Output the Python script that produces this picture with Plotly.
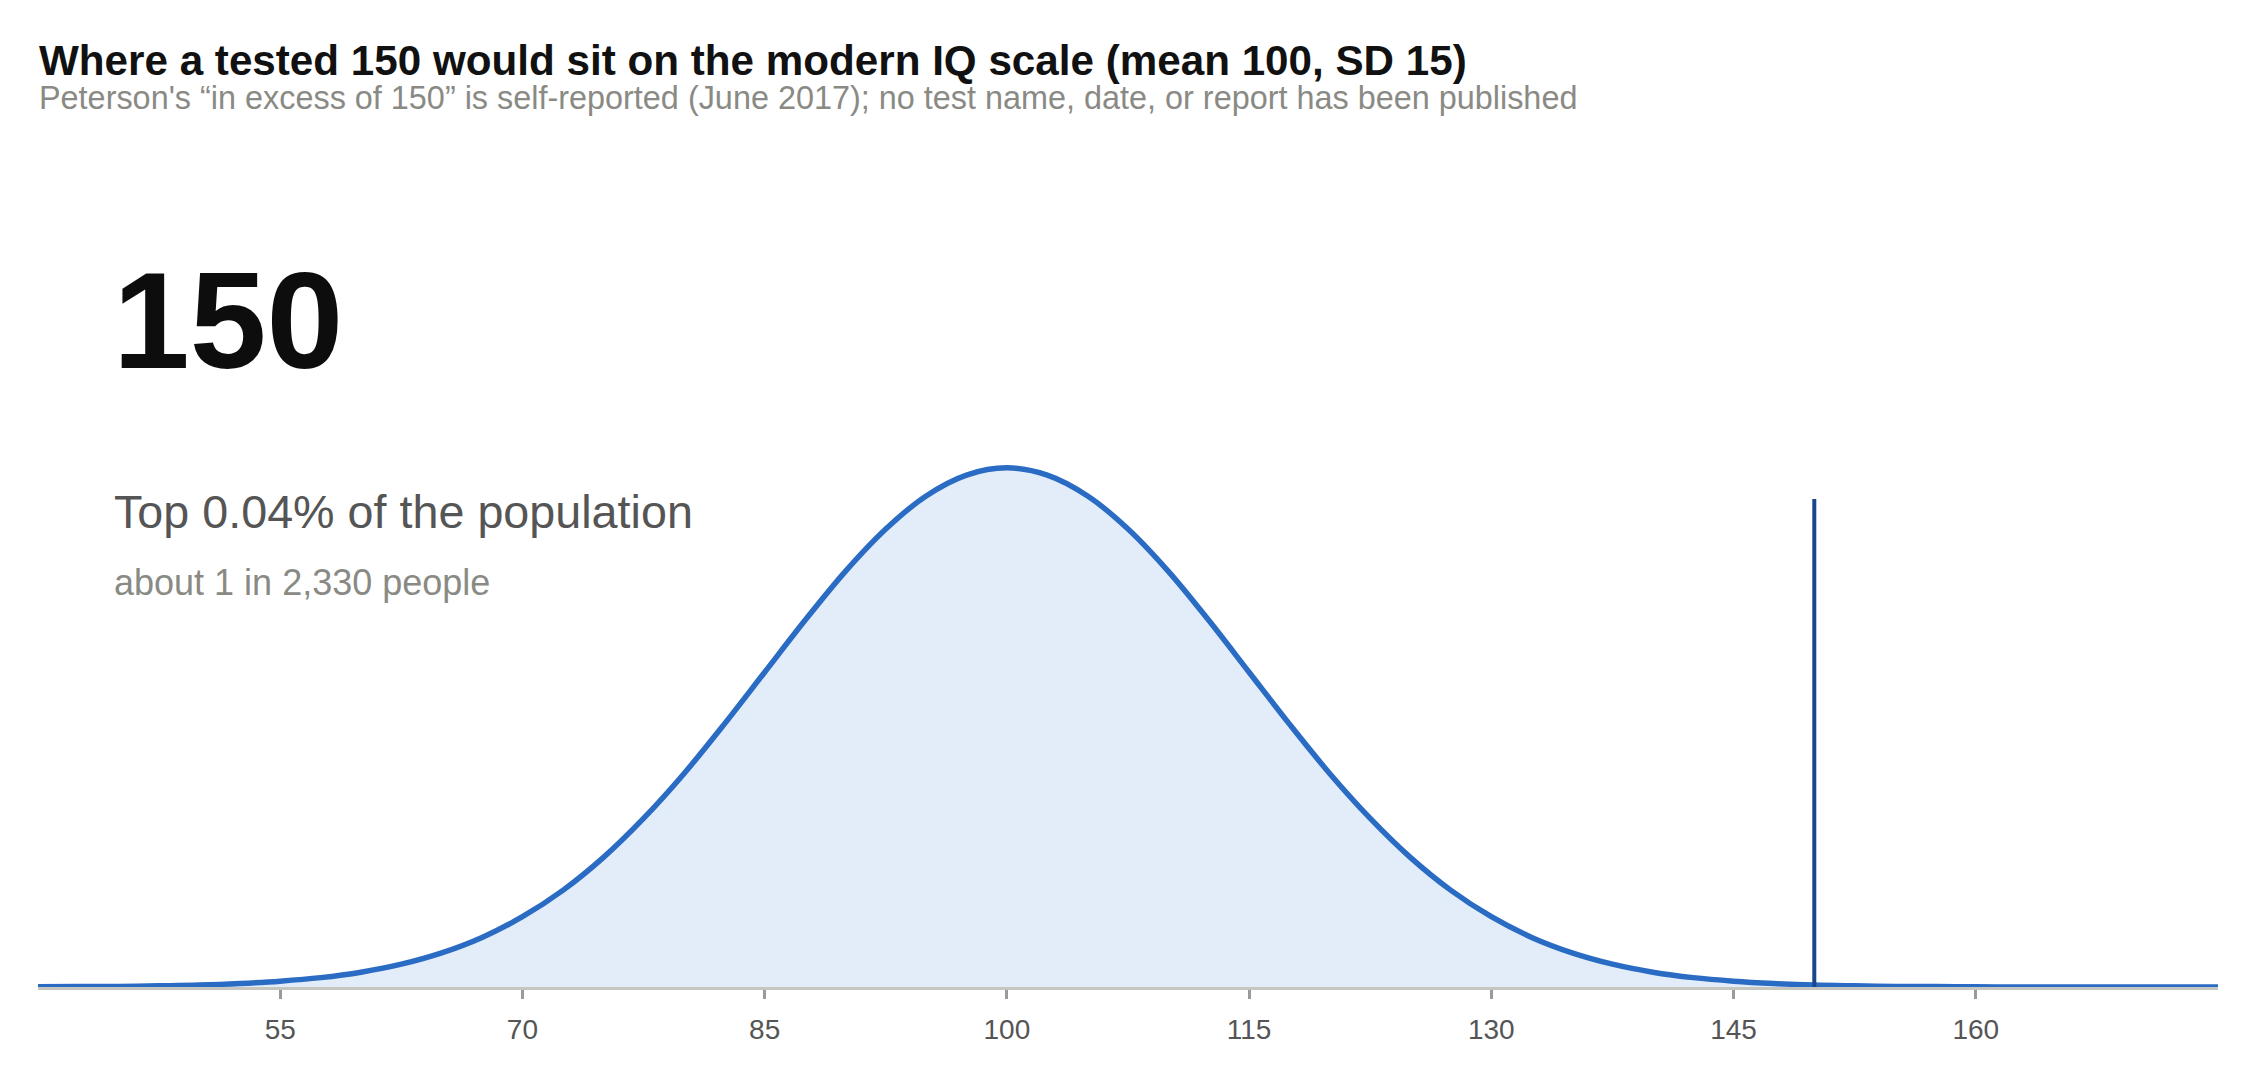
import plotly.graph_objects as go

# IQ scale and density (percent of population per IQ point)
IQ = [40, 42.5, 45, 47.5, 50, 52.5, 55, 57.5, 60, 62.5, 65, 67.5, 70, 72.5, 75, 77.5,
      80, 82.5, 85, 87.5, 90, 92.5, 95, 97.5, 100, 102.5, 105, 107.5, 110, 112.5, 115,
      117.5, 120, 122.5, 125, 127.5, 130, 132.5, 135, 137.5, 140, 142.5, 145, 147.5,
      150, 152.5, 155, 157.5, 160, 162.5, 165, 167.5, 170, 172.5, 175]
DENSITY = [0.001, 0.002, 0.003, 0.006, 0.010, 0.018, 0.030, 0.048, 0.076, 0.117, 0.175,
           0.254, 0.360, 0.495, 0.663, 0.864, 1.093, 1.347, 1.613, 1.879, 2.130, 2.347,
           2.516, 2.623, 2.660, 2.623, 2.516, 2.347, 2.130, 1.879, 1.613, 1.347, 1.093,
           0.864, 0.663, 0.495, 0.360, 0.254, 0.175, 0.117, 0.076, 0.048, 0.030, 0.018,
           0.010, 0.006, 0.003, 0.002, 0.001, 0.0, 0.0, 0.0, 0.0, 0.0, 0.0]

TICKS = [55, 70, 85, 100, 115, 130, 145, 160]

MARK_IQ = 150
MARK_TOP = 2.50

TITLE = "Where a tested 150 would sit on the modern IQ scale (mean 100, SD 15)"
SUBTITLE = ("Peterson's \u201cin excess of 150\u201d is self-reported (June 2017); "
            "no test name, date, or report has been published")
BIG_NUMBER = "150"
LINE_1 = "Top 0.04% of the population"
LINE_2 = "about 1 in 2,330 people"

FONT = "Liberation Sans, Arial, Helvetica, sans-serif"

fig = go.Figure()

fig.add_trace(go.Scatter(
    x=IQ, y=DENSITY,
    mode="lines",
    line=dict(color="#2a6bc3", width=5.5, shape="spline", smoothing=1.0),
    fill="tozeroy",
    fillcolor="#e3edf9",
    hoverinfo="skip",
))

fig.add_trace(go.Scatter(
    x=[MARK_IQ, MARK_IQ], y=[0, MARK_TOP],
    mode="lines",
    line=dict(color="#1a4690", width=4),
    hoverinfo="skip",
))

annotations = [
    dict(text="<b>" + TITLE + "</b>", x=-0.0004, y=1.0935, font=dict(size=42.2, color="#111111")),
    dict(text=SUBTITLE, x=-0.0004, y=1.0495, font=dict(size=32.4, color="#8a8a85")),
    dict(text="<b>" + BIG_NUMBER + "</b>", x=0.0335, y=0.787, font=dict(size=138, color="#0d0d0d")),
    dict(text=LINE_1, x=0.034, y=0.561, font=dict(size=46.7, color="#555555")),
    dict(text=LINE_2, x=0.034, y=0.477, font=dict(size=36, color="#8a8a85")),
]
for a in annotations:
    a.update(xref="paper", yref="paper", xanchor="left", yanchor="middle",
             showarrow=False, align="left")
    a["font"]["family"] = FONT

fig.update_layout(
    width=2256, height=1080,
    paper_bgcolor="white", plot_bgcolor="white",
    margin=dict(l=30, r=46, t=132, b=101),
    showlegend=False,
    hovermode=False,
    font=dict(family=FONT),
    annotations=annotations,
    xaxis=dict(
        range=[40, 175],
        tickvals=TICKS,
        ticks="outside", ticklen=9, tickwidth=2.5, tickcolor="#9a9a96",
        ticklabelstandoff=6,
        tickfont=dict(size=28, color="#555555"),
        showline=True, linecolor="#c6c6c0", linewidth=3,
        showgrid=False, zeroline=False,
    ),
    yaxis=dict(
        range=[0, 4.34],
        visible=False,
        showgrid=False, zeroline=False,
    ),
)

fig.write_html("out.html")
